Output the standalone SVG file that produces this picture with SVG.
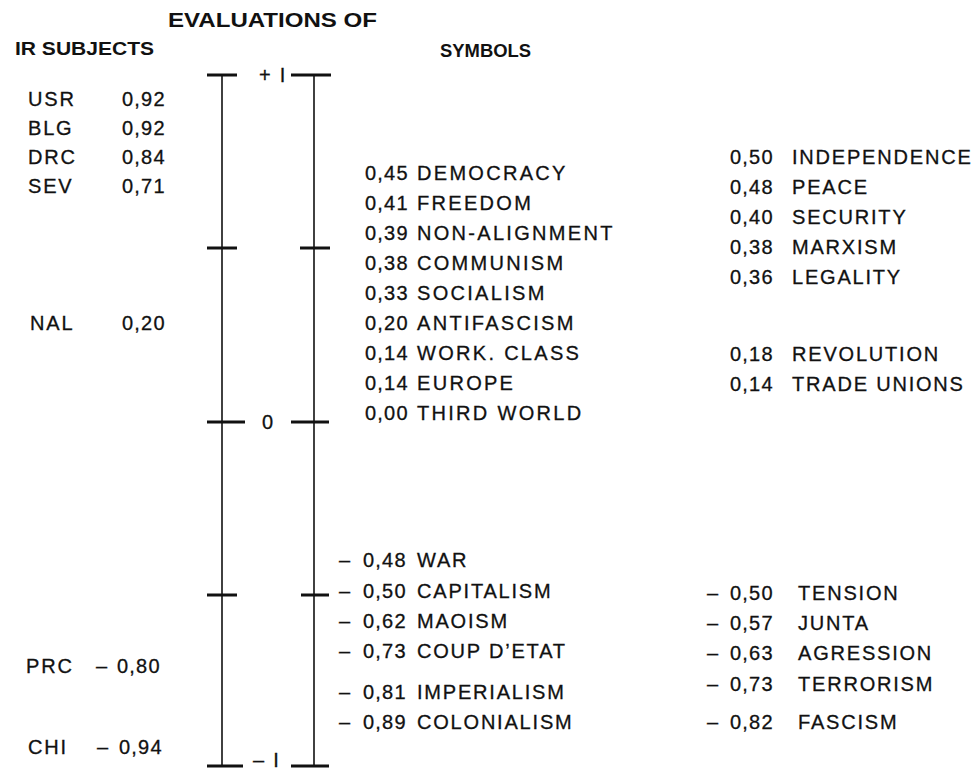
<svg xmlns="http://www.w3.org/2000/svg" width="978" height="770" viewBox="0 0 978 770">
<style>
text{font-family:"Liberation Sans",Arial,sans-serif;fill:#111;}
.h{font-weight:bold;font-size:20px;}
.t{font-size:20px;letter-spacing:1.8px;stroke:#111;stroke-width:0.3px;}
.w{letter-spacing:2.3px;}
.n{letter-spacing:1.2px;}
.ax{stroke:#111;stroke-width:1.6;fill:none;}
.tk{stroke:#111;stroke-width:3;fill:none;}
</style>
<rect width="978" height="770" fill="#fff"/>
<g id="titles">
<text class="h" x="168" y="27" textLength="209" lengthAdjust="spacingAndGlyphs">EVALUATIONS OF</text>
<text class="h" x="15" y="55" style="font-size:18.5px" textLength="139" lengthAdjust="spacingAndGlyphs">IR SUBJECTS</text>
<text class="h" x="440" y="57" style="font-size:18.5px" textLength="91" lengthAdjust="spacingAndGlyphs">SYMBOLS</text>
</g>
<g id="connectors">
<line class="ax" x1="222" y1="75" x2="222" y2="766"/>
<line class="ax" x1="314" y1="75" x2="314" y2="766"/>
<line class="tk" x1="207" y1="75" x2="237" y2="75"/>
<line class="tk" x1="291" y1="75" x2="331" y2="75"/>
<line class="tk" x1="207" y1="248" x2="237" y2="248"/>
<line class="tk" x1="300" y1="248" x2="330" y2="248"/>
<line class="tk" x1="207" y1="422" x2="245" y2="422"/>
<line class="tk" x1="291" y1="422" x2="329" y2="422"/>
<line class="tk" x1="207" y1="595" x2="237" y2="595"/>
<line class="tk" x1="301" y1="595" x2="329" y2="595"/>
<line class="tk" x1="207" y1="766" x2="243" y2="766"/>
<line class="tk" x1="291" y1="766" x2="329" y2="766"/>
</g>
<g id="scale">
<text class="t" x="259" y="82">+ I</text>
<text class="t" x="262" y="429">0</text>
<text class="t" x="253" y="767">– I</text>
</g>
<g id="subjects">
<text class="t"><tspan x="28" y="106">USR</tspan><tspan class="n" x="122" y="106">0,92</tspan></text>
<text class="t"><tspan x="28" y="135">BLG</tspan><tspan class="n" x="122" y="135">0,92</tspan></text>
<text class="t"><tspan x="28" y="164">DRC</tspan><tspan class="n" x="122" y="164">0,84</tspan></text>
<text class="t"><tspan x="28" y="193">SEV</tspan><tspan class="n" x="122" y="193">0,71</tspan></text>
<text class="t"><tspan x="30" y="330">NAL</tspan><tspan class="n" x="122" y="330">0,20</tspan></text>
<text class="t"><tspan x="26" y="673">PRC</tspan><tspan x="96" y="673">–</tspan><tspan class="n" x="117" y="673">0,80</tspan></text>
<text class="t"><tspan x="28" y="754">CHI</tspan><tspan x="97" y="754">–</tspan><tspan class="n" x="119" y="754">0,94</tspan></text>
</g>
<g id="symbols-positive-1">
<text class="t"><tspan class="n" x="365" y="180">0,45</tspan><tspan class="w" x="417" y="180">DEMOCRACY</tspan></text>
<text class="t"><tspan class="n" x="365" y="210">0,41</tspan><tspan class="w" x="417" y="210">FREEDOM</tspan></text>
<text class="t"><tspan class="n" x="365" y="240">0,39</tspan><tspan class="w" x="417" y="240">NON-ALIGNMENT</tspan></text>
<text class="t"><tspan class="n" x="365" y="270">0,38</tspan><tspan class="w" x="417" y="270">COMMUNISM</tspan></text>
<text class="t"><tspan class="n" x="365" y="300">0,33</tspan><tspan class="w" x="417" y="300">SOCIALISM</tspan></text>
<text class="t"><tspan class="n" x="365" y="330">0,20</tspan><tspan class="w" x="417" y="330">ANTIFASCISM</tspan></text>
<text class="t"><tspan class="n" x="365" y="360">0,14</tspan><tspan class="w" x="417" y="360">WORK. CLASS</tspan></text>
<text class="t"><tspan class="n" x="365" y="390">0,14</tspan><tspan class="w" x="417" y="390">EUROPE</tspan></text>
<text class="t"><tspan class="n" x="365" y="420">0,00</tspan><tspan class="w" x="417" y="420">THIRD WORLD</tspan></text>
</g>
<g id="symbols-positive-2">
<text class="t"><tspan class="n" x="730" y="164">0,50</tspan><tspan x="792" y="164">INDEPENDENCE</tspan></text>
<text class="t"><tspan class="n" x="730" y="194">0,48</tspan><tspan x="792" y="194">PEACE</tspan></text>
<text class="t"><tspan class="n" x="730" y="224">0,40</tspan><tspan x="792" y="224">SECURITY</tspan></text>
<text class="t"><tspan class="n" x="730" y="254">0,38</tspan><tspan x="792" y="254">MARXISM</tspan></text>
<text class="t"><tspan class="n" x="730" y="284">0,36</tspan><tspan x="792" y="284">LEGALITY</tspan></text>
<text class="t"><tspan class="n" x="730" y="361">0,18</tspan><tspan x="792" y="361">REVOLUTION</tspan></text>
<text class="t"><tspan class="n" x="730" y="391">0,14</tspan><tspan x="792" y="391">TRADE UNIONS</tspan></text>
</g>
<g id="symbols-negative-1">
<text class="t"><tspan x="339" y="567">–</tspan><tspan class="n" x="363" y="567">0,48</tspan><tspan x="417" y="567">WAR</tspan></text>
<text class="t"><tspan x="339" y="598">–</tspan><tspan class="n" x="363" y="598">0,50</tspan><tspan x="417" y="598">CAPITALISM</tspan></text>
<text class="t"><tspan x="339" y="628">–</tspan><tspan class="n" x="363" y="628">0,62</tspan><tspan x="417" y="628">MAOISM</tspan></text>
<text class="t"><tspan x="339" y="658">–</tspan><tspan class="n" x="363" y="658">0,73</tspan><tspan x="417" y="658">COUP D’ETAT</tspan></text>
<text class="t"><tspan x="339" y="699">–</tspan><tspan class="n" x="363" y="699">0,81</tspan><tspan x="417" y="699">IMPERIALISM</tspan></text>
<text class="t"><tspan x="339" y="729">–</tspan><tspan class="n" x="363" y="729">0,89</tspan><tspan x="417" y="729">COLONIALISM</tspan></text>
</g>
<g id="symbols-negative-2">
<text class="t"><tspan x="707" y="600">–</tspan><tspan class="n" x="730" y="600">0,50</tspan><tspan x="798" y="600">TENSION</tspan></text>
<text class="t"><tspan x="707" y="630">–</tspan><tspan class="n" x="730" y="630">0,57</tspan><tspan x="798" y="630">JUNTA</tspan></text>
<text class="t"><tspan x="707" y="660">–</tspan><tspan class="n" x="730" y="660">0,63</tspan><tspan x="798" y="660">AGRESSION</tspan></text>
<text class="t"><tspan x="707" y="691">–</tspan><tspan class="n" x="730" y="691">0,73</tspan><tspan x="798" y="691">TERRORISM</tspan></text>
<text class="t"><tspan x="707" y="729">–</tspan><tspan class="n" x="730" y="729">0,82</tspan><tspan x="798" y="729">FASCISM</tspan></text>
</g>
</svg>
